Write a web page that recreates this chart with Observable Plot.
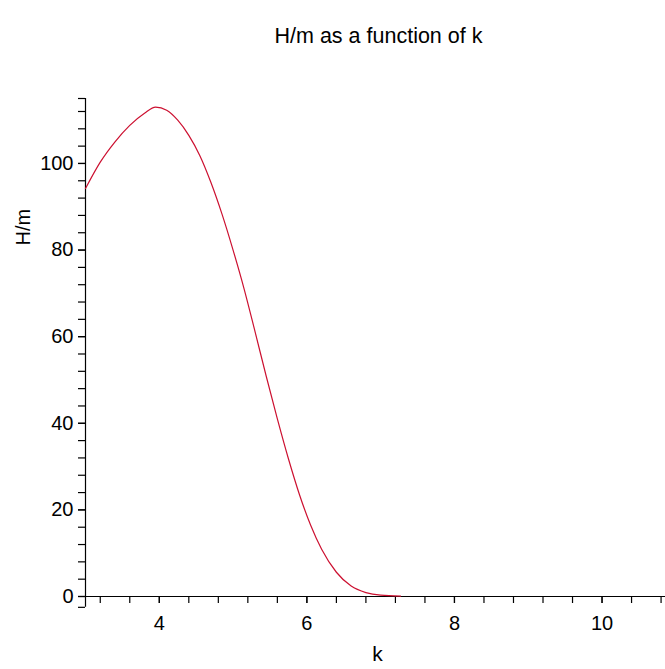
<!DOCTYPE html>
<html>
<head>
<meta charset="utf-8">
<script src="https://cdn.jsdelivr.net/npm/d3@7"></script>
<script src="https://cdn.jsdelivr.net/npm/@observablehq/plot@0.6"></script>
<style>
  html, body { margin: 0; padding: 0; background: #fff; }
  svg { display: block; }
</style>
</head>
<body>
<script>
// Curve data
const kValues = [3.00, 3.20, 3.40, 3.60, 3.80, 3.95, 4.10, 4.25, 4.40, 4.55, 4.70, 4.85, 5.00, 5.15, 5.30, 5.45, 5.60, 5.75, 5.90, 6.05, 6.20, 6.40, 6.60, 6.80, 7.00, 7.27];
const hmValues = [94.2, 100.3, 105.0, 108.8, 111.6, 113.0, 112.3, 110.0, 106.5, 101.8, 95.6, 88.3, 80.0, 71.0, 61.0, 50.8, 41.0, 31.8, 23.5, 16.5, 10.9, 5.6, 2.4, 0.9, 0.3, 0.1];

// Axes
const xDomain = [3, 10.86];
const yDomain = [0, 115];
const yAxisExtent = [-2.5, 115];
const xMajorTicks = [4, 6, 8, 10];
const xMinorTicks = [3.2, 3.6, 4.0, 4.4, 4.8, 5.2, 5.6, 6.0, 6.4, 6.8, 7.2, 7.6, 8.0, 8.4, 8.8, 9.2, 9.6, 10.0, 10.4, 10.8];
const yMajorTicks = [0, 20, 40, 60, 80, 100];
const yMinorTicks = [-2.5, 0, 4, 8, 12, 16, 20, 24, 28, 32, 36, 40, 44, 48, 52, 56, 60, 64, 68, 72, 76, 80, 84, 88, 92, 96, 100, 104, 108, 112, 115];

const titleText = ["H/m as a function of k"];
const xLabel = ["k"];
const yLabel = ["H/m"];

const data = kValues.map((k, i) => ({k, hm: hmValues[i]}));

const font = "'Liberation Sans', Arial, sans-serif";

const chart = Plot.plot({
  width: 665,
  height: 669,
  marginLeft: 85,
  marginRight: 0,
  marginTop: 98,
  marginBottom: 73,
  style: {fontFamily: font, fontSize: "20px", color: "#000", background: "#fff"},
  x: {domain: xDomain},
  y: {domain: yDomain},
  marks: [
    // axis lines
    Plot.ruleY([0], {stroke: "#000", strokeWidth: 1.2}),
    Plot.ruleX([xDomain[0]], {y1: yAxisExtent[0], y2: yAxisExtent[1], stroke: "#000", strokeWidth: 1.2}),
    // minor ticks
    Plot.axisX({ticks: xMinorTicks, tickSize: 7, text: null, label: null, stroke: "#000", strokeWidth: 1.2}),
    Plot.axisY({ticks: yMinorTicks, tickSize: 7, text: null, label: null, stroke: "#000", strokeWidth: 1.2}),
    // major labels
    Plot.axisX({ticks: xMajorTicks, tickSize: 7, tickPadding: 12, label: null, fontSize: 20, tickFormat: d => String(d), stroke: "#000", strokeWidth: 1.2}),
    Plot.axisY({ticks: yMajorTicks, tickSize: 7, tickPadding: 5, label: null, fontSize: 20, tickFormat: d => String(d), stroke: "#000", strokeWidth: 1.2}),
    // curve
    Plot.line(data, {x: "k", y: "hm", stroke: "#cc1030", strokeWidth: 1.2, curve: "monotone-x"}),
    // titles
    Plot.text(titleText, {frameAnchor: "top", dx: 3, dy: -71, fontSize: 21.5, fill: "#000"}),
    Plot.text(xLabel, {frameAnchor: "bottom", dx: 2, dy: 64, fontSize: 21, fill: "#000"}),
    Plot.text(yLabel, {frameAnchor: "left", dx: -62, dy: -102, rotate: -90, fontSize: 20, fill: "#000"})
  ]
});
document.body.appendChild(chart);
</script>
</body>
</html>
